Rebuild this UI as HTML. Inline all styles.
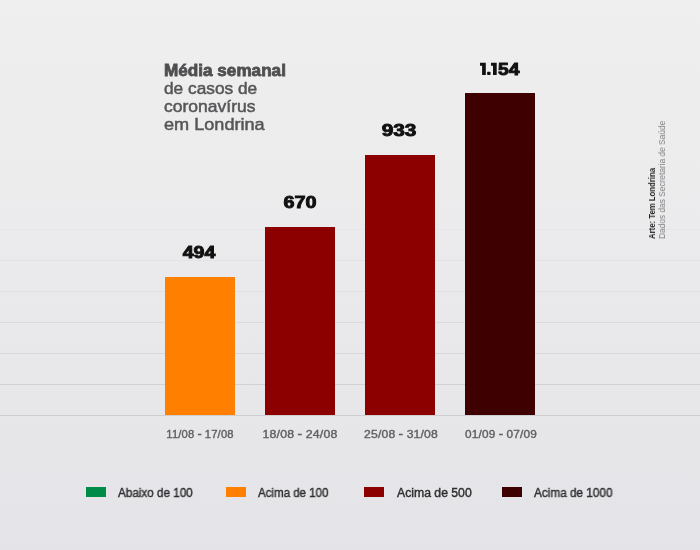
<!DOCTYPE html>
<html><head><meta charset="utf-8">
<style>
html,body{margin:0;padding:0;}
body{width:700px;height:550px;overflow:hidden;position:relative;font-family:"Liberation Sans",sans-serif;
background:linear-gradient(180deg,#efefef 0%,#eaeaec 50%,#e4e4e8 100%);}
.g{position:absolute;left:0;width:700px;height:1px;}
.bar{position:absolute;width:70px;}
.val{position:absolute;width:110px;text-align:center;font-weight:bold;font-size:16px;line-height:17px;color:#111;
 transform:scaleX(1.32);transform-origin:50% 50%;-webkit-text-stroke:0.9px #111;white-space:nowrap;will-change:transform;}
.xl{will-change:transform;position:absolute;width:110px;text-align:center;font-size:10px;line-height:12px;color:#606062;-webkit-text-stroke:0.35px #606062;white-space:nowrap;letter-spacing:0.15px;}
.hy{position:relative;top:-0.8px;-webkit-text-stroke:0.7px #606062;}
.sw{position:absolute;top:487px;width:20px;height:10px;}
.lg{will-change:transform;transform-origin:0 50%;position:absolute;top:485.8px;font-size:12px;line-height:14px;color:#2e2e30;white-space:nowrap;-webkit-text-stroke:0.4px #2e2e30;}
.title{position:absolute;left:164px;top:61.5px;font-size:17px;line-height:17.9px;color:#565658;-webkit-text-stroke:0.5px #565658;white-space:nowrap;will-change:transform;}
.title span{display:block;transform-origin:0 50%;height:17.9px;}
.title b{color:#4f4f51;-webkit-text-stroke:0.8px #4f4f51;}
.rot{position:absolute;white-space:nowrap;transform-origin:0 0;transform:rotate(-90deg);font-size:9px;line-height:9px;will-change:transform;}
</style></head><body>
<!-- gridlines -->
<div class="g" style="top:415px;background:#cfcfd2"></div>
<div class="g" style="top:384px;background:#d3d3d6"></div>
<div class="g" style="top:353px;background:#d7d7da"></div>
<div class="g" style="top:322px;background:#dbdbde"></div>
<div class="g" style="top:291px;background:#dfdfe1"></div>
<div class="g" style="top:260px;background:#e3e3e5"></div>
<div class="g" style="top:229px;background:#e7e7e9"></div>
<div class="g" style="top:198px;background:#eaeaec"></div>

<!-- bars -->
<div class="bar" style="left:165px;top:277px;height:138px;background:#ff8000"></div>
<div class="bar" style="left:265px;top:227px;height:188px;background:#8c0000"></div>
<div class="bar" style="left:365px;top:155px;height:260px;background:#8c0000"></div>
<div class="bar" style="left:465px;top:93px;height:322px;background:#3e0000"></div>

<!-- values -->
<div class="val" style="left:143.6px;top:244px;transform:scaleX(1.22)">494</div>
<div class="val" style="left:245.1px;top:194px;transform:scaleX(1.235)">670</div>
<div class="val" style="left:344px;top:122px;transform:scaleX(1.30)">933</div>
<svg style="position:absolute;left:478px;top:60px" width="22" height="18" viewBox="478 60 22 18"><g fill="#111"><path d="M480 62.8H485.8V75H482.1V65.8H480Z"/><rect x="487.1" y="71.8" width="3.5" height="3.2" rx="0.9"/><path d="M491 62.8H496.7V75H493V65.8H491Z"/></g></svg>
<div class="val" style="left:497.8px;top:60.5px;width:auto;text-align:left;transform-origin:0 50%;transform:scaleX(1.20)">54</div>

<!-- title -->
<div class="title"><span style="transform:scaleX(1.008)"><b>Média semanal</b></span><span style="transform:scaleX(1.016)">de casos de</span><span style="transform:scaleX(1.03)">coronavírus</span><span style="transform:scaleX(1.065)">em Londrina</span></div>

<!-- x labels -->
<div class="xl" style="left:144.8px;top:429px;transform:scaleX(1.12)">11/08 <span class="hy">-</span> 17/08</div>
<div class="xl" style="left:244.8px;top:429px;transform:scaleX(1.23)">18/08 <span class="hy">-</span> 24/08</div>
<div class="xl" style="left:345.6px;top:429px;transform:scaleX(1.215)">25/08 <span class="hy">-</span> 31/08</div>
<div class="xl" style="left:446.3px;top:429px;transform:scaleX(1.18)">01/09 <span class="hy">-</span> 07/09</div>

<!-- legend -->
<div class="sw" style="left:86px;background:#008c46"></div>
<div class="lg" style="left:118.4px;transform:scaleX(0.974)">Abaixo de 100</div>
<div class="sw" style="left:226px;background:#ff8000"></div>
<div class="lg" style="left:258.4px;transform:scaleX(0.96)">Acima de 100</div>
<div class="sw" style="left:364px;background:#8c0000"></div>
<div class="lg" style="left:396.6px;transform:scaleX(1.018)">Acima de 500</div>
<div class="sw" style="left:502px;background:#3e0000"></div>
<div class="lg" style="left:534.4px;transform:scaleX(0.98)">Acima de 1000</div>

<!-- credits -->
<div class="rot" style="left:647.5px;top:239.2px;font-weight:bold;color:#222;transform:rotate(-90deg) scaleX(0.864)">Arte: Tem Londrina</div>
<div class="rot" style="left:658.3px;top:238.7px;color:#808082;transform:rotate(-90deg) scaleX(0.927)">Dados das Secretaria de Saúde</div>
</body></html>
